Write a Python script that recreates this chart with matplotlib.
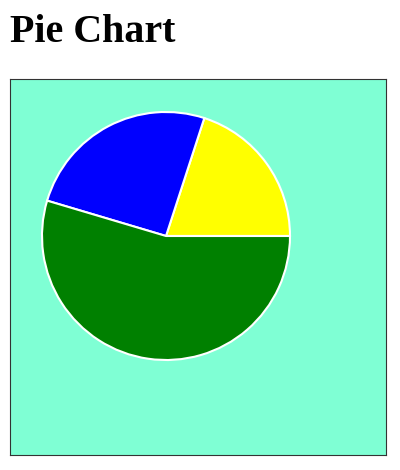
import matplotlib
matplotlib.use("Agg")
import matplotlib.pyplot as plt

# slice data (counterclockwise from 3 o'clock)
labels = ["Yellow", "Blue", "Green"]
values = [20, 25.4, 54.6]
colors = ["#ffff00", "#0000ff", "#008000"]

fig = plt.figure(figsize=(4.0, 4.7), dpi=100)
fig.text(10 / 400, 1 - 42 / 470, "Pie Chart", fontsize=28.8, fontweight="bold",
         family=["Liberation Serif", "DejaVu Serif"], ha="left", va="baseline")

ax = fig.add_axes([10 / 400, 1 - 455 / 470, 376 / 400, 376 / 470])
ax.set_facecolor("#7fffd4")

ax.pie(values, colors=colors, startangle=0, counterclock=True,
       center=(156, 219), radius=124, frame=True,
       wedgeprops=dict(edgecolor="white", linewidth=1.5))

ax.set_xlim(0, 376)
ax.set_ylim(0, 376)
ax.set_xticks([])
ax.set_yticks([])
for s in ax.spines.values():
    s.set_color("#333333")
    s.set_linewidth(0.8)

fig.savefig("out.png", dpi=100)
